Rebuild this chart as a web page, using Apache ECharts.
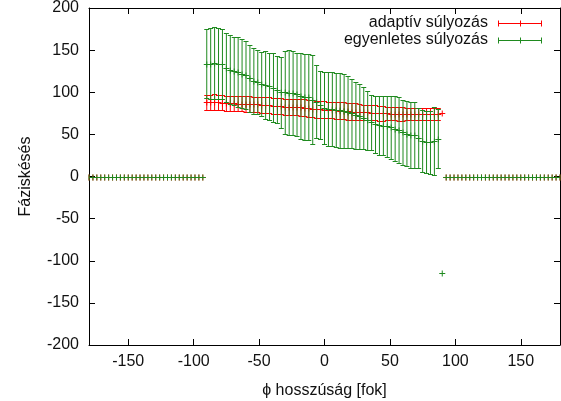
<!DOCTYPE html>
<html>
<head>
<meta charset="utf-8">
<script src="https://cdn.jsdelivr.net/npm/echarts@6/dist/echarts.min.js"></script>
<style>
html,body{margin:0;padding:0;background:#fff;}
#chart{width:561px;height:401px;}
</style>
</head>
<body>
<div id="chart"></div>
<script>
// ---------- data ----------
const seriesNames = ['adaptív súlyozás', 'egyenletes súlyozás'];
const xTickValues = [-150, -100, -50, 0, 50, 100, 150];
const yTickValues = [-200, -150, -100, -50, 0, 50, 100, 150, 200];
const xAxisTitle = 'ϕ hosszúság [fok]';
const yAxisTitle = 'Fáziskésés';

const longitudeWest = [-180,-177,-174,-171,-168,-165,-162,-159,-156,-153,-150,-147,-144,-141,-138,-135,-132,-129,-126,-123,-120,-117,-114,-111,-108,-105,-102,-99,-96,-93];
const longitudeMid = [-90,-87,-84,-81,-78,-75,-72,-69,-66,-63,-60,-57,-54,-51,-48,-45,-42,-39,-36,-33,-30,-27,-24,-21,-18,-15,-12,-9,-6,-3,0,3,6,9,12,15,18,21,24,27,30,33,36,39,42,45,48,51,54,57,60,63,66,69,72,75,78,81,84,87,90];
const longitudeEast = [93,96,99,102,105,108,111,114,117,120,123,126,129,132,135,138,141,144,147,150,153,156,159,162,165,168,171,174,177,180];
const outerZeros = [0,0,0,0,0,0,0,0,0,0,0,0,0,0,0,0,0,0,0,0,0,0,0,0,0,0,0,0,0,0];

// adaptive weighting (red): phase lag and error, -90..90
const adaptiveMid = [88,88,88.5,88,87.5,87,87,87,86.5,86.5,86,86,85.5,85.5,85,85,84.5,84,84,83.5,83,83,82.5,82,82,81.5,81,80.5,80,80,79.5,79,79,78.5,78,78,77.5,77,77,76.5,76,76,75.5,75.5,75,75,75,74.5,74.5,74,74,74,74,74,74,74,74,74,74,74,75];
const adaptiveErrMid = [9,9,9,9,9,9,9,9,9,9,9,9,9,9,9.5,9.5,9.5,9.5,9.5,9.5,9.5,9.5,9.5,9.5,10,10,10,10,10,10,10,10,10,10,10,10,10,10,10,9,9,9,9,9,9,9,8,8,8,8,8,7.5,7.5,7.5,7.5,7.5,7.5,7.5,7.5,7.5,0];

// uniform weighting (green): phase lag and error, -90..90
const uniformMid = [134,134,134.5,134,133.5,129,127,125.5,123.5,122,120.5,116.5,113.5,112,110,108.5,107,105.5,103,100,100,99.5,99,97.5,95.5,94,94,91,89,85,81,80,80,79,78.5,78,76.5,75,72.5,71.5,69.5,66.5,64.5,62,61,60.5,59.5,58.5,56.5,55,52.5,51,49.5,49,45.5,42,41,40.5,42.5,45,-115];
const uniformErrMid = [41,42,42.5,42,41.5,41,41,40.5,41.5,41,40.5,39.5,39.5,38,38,40.5,40,40.5,40,42,49,50.5,50,49.5,50.5,51,51,53,43,40,43,44,44,44,44.5,44,42.5,41,39.5,38.5,36.5,34.5,32.5,34,35,35.5,36.5,37.5,38.5,39,38.5,39,39.5,39,35.5,37,37,37.5,40.5,35,0];

const colors = ['#ff0000', '#1f8a1f'];

// ---------- build ----------
const longitudes = longitudeWest.concat(longitudeMid, longitudeEast);
function buildRows(mid, err) {
  const vals = outerZeros.concat(mid, outerZeros);
  const errs = outerZeros.concat(err, outerZeros);
  return longitudes.map((lon, i) => [lon, vals[i], errs[i]]);
}
const adaptiveRows = buildRows(adaptiveMid, adaptiveErrMid);
const uniformRows = buildRows(uniformMid, uniformErrMid);

const CAP = 2.5, PLUS = 3;
function seg(x1, y1, x2, y2, color) {
  return { type: 'line', shape: { x1: x1, y1: y1, x2: x2, y2: y2 },
           style: { stroke: color, lineWidth: 1, fill: 'none', opacity: 1 } };
}
function errRenderer(color) {
  return function (params, api) {
    const cs = params.coordSys;
    const xmin = cs.x, xmax = cs.x + cs.width;
    const x = api.value(0), y = api.value(1), e = api.value(2);
    const c = api.coord([x, y]);
    const px = c[0];
    const py = Math.round(c[1]) + 0.5;
    const cl = v => Math.max(xmin, Math.min(xmax, v));
    const ch = [];
    if (e > 0) {
      const t = Math.round(api.coord([x, y + e])[1]) + 0.5;
      const b = Math.round(api.coord([x, y - e])[1]) + 0.5;
      ch.push(seg(px, t, px, b, color));
      ch.push(seg(cl(px - CAP), t, cl(px + CAP), t, color));
      ch.push(seg(cl(px - CAP), b, cl(px + CAP), b, color));
    }
    ch.push(seg(cl(px - PLUS), py, cl(px + PLUS), py, color));
    ch.push(seg(px, py - PLUS, px, py + PLUS, color));
    return { type: 'group', children: ch };
  };
}

const FONT = 'Liberation Sans, Arial, Helvetica, sans-serif';
const txt = '#111';

function legendGraphics() {
  const g = [];
  const textRight = 488, lineL = 498, lineR = 542, rows = [23, 40];
  seriesNames.forEach((name, i) => {
    const y = rows[i] + 0.5;
    g.push({ type: 'text', x: textRight, y: rows[i], style: { text: name, fill: txt, font: '16px ' + FONT, textAlign: 'right', textVerticalAlign: 'middle' }, z: 100 });
    const mx = Math.round((lineL + lineR) / 2) + 0.5;
    const segs = [
      seg(lineL, y, lineR, y, colors[i]),
      seg(lineL + 0.5, y - 3, lineL + 0.5, y + 3, colors[i]),
      seg(lineR - 0.5, y - 3, lineR - 0.5, y + 3, colors[i]),
      seg(mx, y - 3, mx, y + 3, colors[i])
    ];
    segs.forEach(s => { s.z = 100; g.push(s); });
  });
  return g;
}

const axisLineStyle = { color: '#000', width: 1 };
const option = {
  animation: false,
  backgroundColor: '#fff',
  grid: { left: 89, right: 1, top: 8, bottom: 56, containLabel: false, outerBoundsMode: 'none' },
  xAxis: [
    { type: 'value', min: -180, max: 180, position: 'bottom',
      name: xAxisTitle, nameLocation: 'middle', nameGap: 38,
      nameTextStyle: { color: txt, fontSize: 16, fontFamily: FONT },
      axisLine: { show: true, onZero: false, lineStyle: axisLineStyle },
      axisTick: { show: true, inside: true, length: 6, customValues: xTickValues, lineStyle: axisLineStyle },
      axisLabel: { show: true, customValues: xTickValues, color: txt, fontSize: 16, fontFamily: FONT, margin: 9 },
      splitLine: { show: false } },
    { type: 'value', min: -180, max: 180, position: 'top',
      axisLine: { show: true, onZero: false, lineStyle: axisLineStyle },
      axisTick: { show: true, inside: true, length: 6, customValues: xTickValues, lineStyle: axisLineStyle },
      axisLabel: { show: false }, splitLine: { show: false } }
  ],
  yAxis: [
    { type: 'value', min: -200, max: 200, interval: 50, position: 'left',
      name: yAxisTitle, nameLocation: 'middle', nameGap: 55, nameRotate: 90,
      nameTextStyle: { color: txt, fontSize: 16, fontFamily: FONT },
      axisLine: { show: true, onZero: false, lineStyle: axisLineStyle },
      axisTick: { show: true, inside: true, length: 6, customValues: yTickValues, lineStyle: axisLineStyle },
      axisLabel: { show: true, customValues: yTickValues, color: txt, fontSize: 16, fontFamily: FONT, margin: 10 },
      splitLine: { show: false } },
    { type: 'value', min: -200, max: 200, interval: 50, position: 'right',
      axisLine: { show: true, onZero: false, lineStyle: axisLineStyle },
      axisTick: { show: true, inside: true, length: 6, customValues: yTickValues, lineStyle: axisLineStyle },
      axisLabel: { show: false }, splitLine: { show: false } }
  ],
  series: [
    { name: seriesNames[0], type: 'custom', xAxisIndex: 0, yAxisIndex: 0,
      itemStyle: { color: colors[0] },
      renderItem: errRenderer(colors[0]), data: adaptiveRows, encode: { x: 0, y: 1 }, z: 2 },
    { name: seriesNames[1], type: 'custom', xAxisIndex: 0, yAxisIndex: 0,
      itemStyle: { color: colors[1] },
      renderItem: errRenderer(colors[1]), data: uniformRows, encode: { x: 0, y: 1 }, z: 3 }
  ],
  graphic: legendGraphics()
};
const chart = echarts.init(document.getElementById('chart'), null, { renderer: 'canvas' });
chart.setOption(option);
</script>
</body>
</html>
